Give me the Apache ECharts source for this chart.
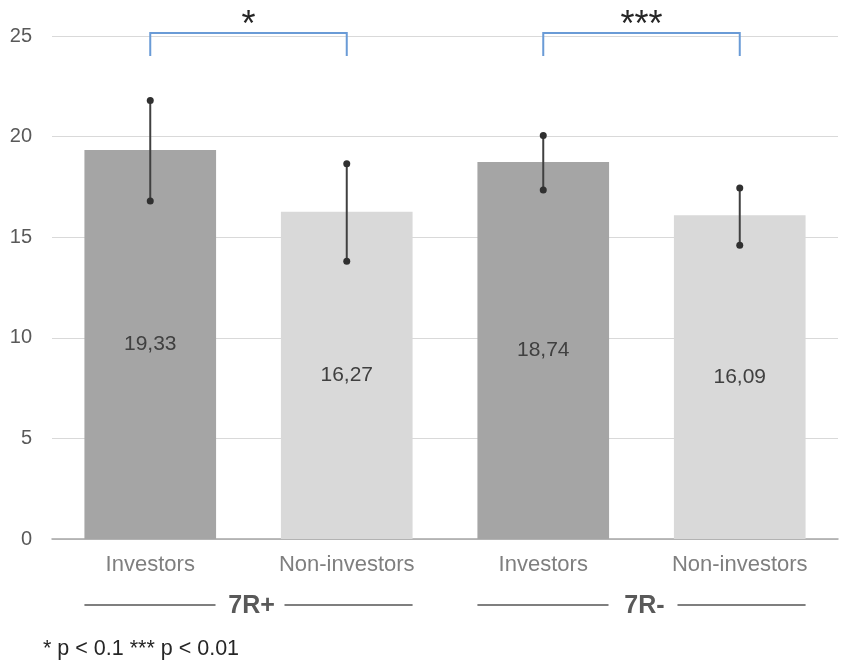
<!DOCTYPE html>
<html>
<head>
<meta charset="utf-8">
<script src="https://cdn.jsdelivr.net/npm/echarts@6/dist/echarts.min.js"></script>
<style>
html,body{margin:0;padding:0;background:#fff;}
#chart{width:850px;height:672px;}
</style>
</head>
<body>
<div id="chart"></div>
<script>
// ---- data ----
var categories = ['Investors', 'Non-investors', 'Investors', 'Non-investors'];
var means = [19.33, 16.27, 18.74, 16.09];
var errLow = [16.8, 13.8, 17.35, 14.6];
var errHigh = [21.8, 18.65, 20.05, 17.45];
var yTicks = [0, 5, 10, 15, 20, 25];
var groups = ['7R+', '7R-'];
var groupStart = [0, 2];
var groupEnd = [1, 3];
var sigLabels = ['*', '***'];
var sigFrom = [0, 2];
var sigTo = [1, 3];
var sigLow = [24, 24];
var sigTop = [25.15, 25.15];
var footnote = '* p < 0.1 *** p < 0.01';

var FONT = '"Liberation Sans", Arial, sans-serif';
var barColors = ['#a5a5a5', '#d9d9d9', '#a5a5a5', '#d9d9d9'];

var chart = echarts.init(document.getElementById('chart'));

var errData = means.map(function (m, i) { return [i, errLow[i], errHigh[i]]; });
var sigData = sigLabels.map(function (s, i) { return [sigFrom[i], sigTo[i], sigLow[i], sigTop[i], s]; });
var groupData = groups.map(function (g, i) { return [groupStart[i], groupEnd[i], g]; });

chart.setOption({
  animation: false,
  grid: { left: 52, right: 12, top: 36, bottom: 133 },
  xAxis: {
    type: 'category',
    data: categories,
    axisTick: { show: false },
    axisLine: { lineStyle: { color: '#a6a6a6', width: 1.5 } },
    axisLabel: { color: '#7f7f7f', fontSize: 22, fontFamily: FONT, margin: 15 }
  },
  yAxis: {
    type: 'value',
    min: yTicks[0],
    max: yTicks[yTicks.length - 1],
    interval: yTicks[1] - yTicks[0],
    axisLine: { show: false },
    axisTick: { show: false },
    splitLine: { lineStyle: { color: '#d9d9d9', width: 1.2 } },
    axisLabel: { color: '#595959', fontSize: 20, fontFamily: FONT, margin: 20 }
  },
  series: [
    {
      type: 'bar',
      data: means,
      barWidth: '67%',
      itemStyle: { color: function (p) { return barColors[p.dataIndex]; } },
      label: {
        show: true,
        position: 'inside',
        color: '#404040',
        fontSize: 21,
        fontFamily: FONT,
        formatter: function (p) { return p.value.toFixed(2).replace('.', ','); }
      },
      z: 2
    },
    {
      type: 'custom',
      data: errData,
      encode: { x: 0, y: [1, 2] },
      z: 5,
      renderItem: function (params, api) {
        var lo = api.coord([api.value(0), api.value(1)]);
        var hi = api.coord([api.value(0), api.value(2)]);
        var st = { stroke: '#404040', lineWidth: 2 };
        return {
          type: 'group',
          children: [
            { type: 'line', shape: { x1: lo[0], y1: lo[1], x2: hi[0], y2: hi[1] }, style: st },
            { type: 'circle', shape: { cx: lo[0], cy: lo[1], r: 3.5 }, style: { fill: '#303030' } },
            { type: 'circle', shape: { cx: hi[0], cy: hi[1], r: 3.5 }, style: { fill: '#303030' } }
          ]
        };
      }
    },
    {
      type: 'custom',
      data: sigData,
      clip: false,
      z: 6,
      renderItem: function (params, api) {
        var a = api.coord([api.value(0), api.value(2)]);
        var b = api.coord([api.value(1), api.value(2)]);
        var at = api.coord([api.value(0), api.value(3)]);
        var st = { stroke: '#6a9bd6', lineWidth: 2, fill: null };
        return {
          type: 'group',
          children: [
            { type: 'polyline', shape: { points: [[a[0], a[1]], [a[0], at[1]], [b[0], at[1]], [b[0], b[1]]] }, style: st },
            { type: 'text', style: { text: api.value(4), x: (a[0] + b[0]) / 2, y: at[1] - 7, align: 'center', verticalAlign: 'middle', fill: '#262626', fontSize: 36, fontFamily: FONT } }
          ]
        };
      }
    },
    {
      type: 'custom',
      data: groupData,
      clip: false,
      z: 6,
      renderItem: function (params, api) {
        var s = api.coord([api.value(0), 0]);
        var e = api.coord([api.value(1), 0]);
        var half = api.size([1, 0])[0] * 0.67 / 2;
        var y = s[1] + 66;
        var mid = (s[0] + e[0]) / 2;
        var gap = 33;
        var st = { stroke: '#7f7f7f', lineWidth: 2 };
        return {
          type: 'group',
          children: [
            { type: 'line', shape: { x1: s[0] - half, y1: y, x2: mid - gap, y2: y }, style: st },
            { type: 'line', shape: { x1: mid + gap + 3, y1: y, x2: e[0] + half, y2: y }, style: st },
            { type: 'text', style: { text: api.value(2), x: mid + 3, y: y + 1, align: 'center', verticalAlign: 'middle', fill: '#595959', fontSize: 25, fontWeight: 'bold', fontFamily: FONT } }
          ]
        };
      }
    }
  ],
  graphic: [
    { type: 'text', left: 43, top: 638, style: { text: footnote, fill: '#262626', fontSize: 21.5, fontFamily: FONT } }
  ]
});
</script>
</body>
</html>
